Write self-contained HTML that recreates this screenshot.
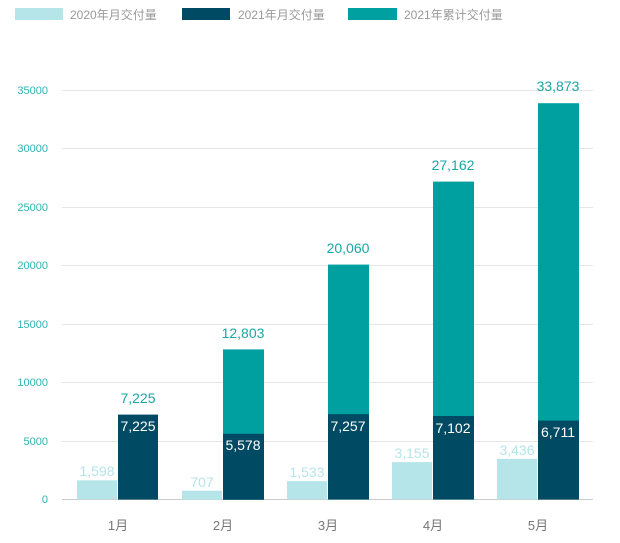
<!DOCTYPE html>
<html><head><meta charset="utf-8"><style>body{margin:0;background:#fff}svg{display:block}text{font-family:"Liberation Sans","Noto Sans CJK SC",sans-serif}</style></head><body>
<svg width="620" height="543" viewBox="0 0 620 543" xmlns="http://www.w3.org/2000/svg">
<rect x="15" y="8" width="48" height="12" fill="#b5e5e8"/><text x="70" y="19" font-size="12" fill="#999">2020年月交付量</text>
<rect x="182" y="8" width="48" height="12" fill="#004a63"/><text x="238" y="19" font-size="12" fill="#999">2021年月交付量</text>
<rect x="348" y="8" width="49" height="12" fill="#00a0a0"/><text x="404" y="19" font-size="12" fill="#999">2021年累计交付量</text>
<g stroke="#e6e6e6" stroke-width="1">
<line x1="62" y1="90.5" x2="593" y2="90.5"/><line x1="62" y1="148.5" x2="593" y2="148.5"/><line x1="62" y1="207.5" x2="593" y2="207.5"/><line x1="62" y1="265.5" x2="593" y2="265.5"/><line x1="62" y1="324.5" x2="593" y2="324.5"/><line x1="62" y1="382.5" x2="593" y2="382.5"/><line x1="62" y1="441.5" x2="593" y2="441.5"/></g>
<line x1="62" y1="499.5" x2="593" y2="499.5" stroke="#ccc"/>
<g font-size="11" fill="#2bb5b5" text-anchor="end">
<text x="48" y="94">35000</text><text x="48" y="152">30000</text><text x="48" y="211">25000</text><text x="48" y="269">20000</text><text x="48" y="328">15000</text><text x="48" y="386">10000</text><text x="48" y="445">5000</text><text x="48" y="503">0</text></g>
<g fill="#00a0a0">
<rect x="223" y="349.4" width="41" height="150"/><rect x="328" y="264.6" width="41" height="235"/><rect x="433" y="181.6" width="41" height="318"/><rect x="538" y="103.2" width="41" height="396"/></g>
<g fill="#b5e5e8">
<rect x="77" y="480.3" width="40" height="19"/><rect x="182" y="490.7" width="40" height="9"/><rect x="287" y="481.1" width="40" height="18.4"/><rect x="392" y="462.1" width="40" height="37.4"/><rect x="497" y="458.8" width="40" height="40.7"/></g>
<g fill="#004a63">
<rect x="118" y="414.6" width="40" height="85"/><rect x="223" y="433.8" width="41" height="66"/><rect x="328" y="414.2" width="41" height="85.3"/><rect x="433" y="416" width="41" height="83.5"/><rect x="538" y="420.6" width="41" height="79"/></g>
<g font-size="14" text-anchor="middle">
<g fill="#b5e5e8"><text x="97" y="476">1,598</text><text x="202" y="487">707</text><text x="307" y="477">1,533</text><text x="412" y="458">3,155</text><text x="517" y="455">3,436</text></g>
<g fill="#fff"><text x="138" y="431">7,225</text><text x="243" y="450">5,578</text><text x="348" y="431">7,257</text><text x="453" y="433">7,102</text><text x="558" y="437">6,711</text></g>
<g fill="#1aa6a6"><text x="138" y="403">7,225</text><text x="243" y="338">12,803</text><text x="348" y="253">20,060</text><text x="453" y="170">27,162</text><text x="558" y="91">33,873</text></g>
</g>
<g font-size="13" fill="#777" text-anchor="middle">
<text x="118" y="530">1月</text><text x="223" y="530">2月</text><text x="328" y="530">3月</text><text x="433" y="530">4月</text><text x="538" y="530">5月</text></g>
</svg>
</body></html>
